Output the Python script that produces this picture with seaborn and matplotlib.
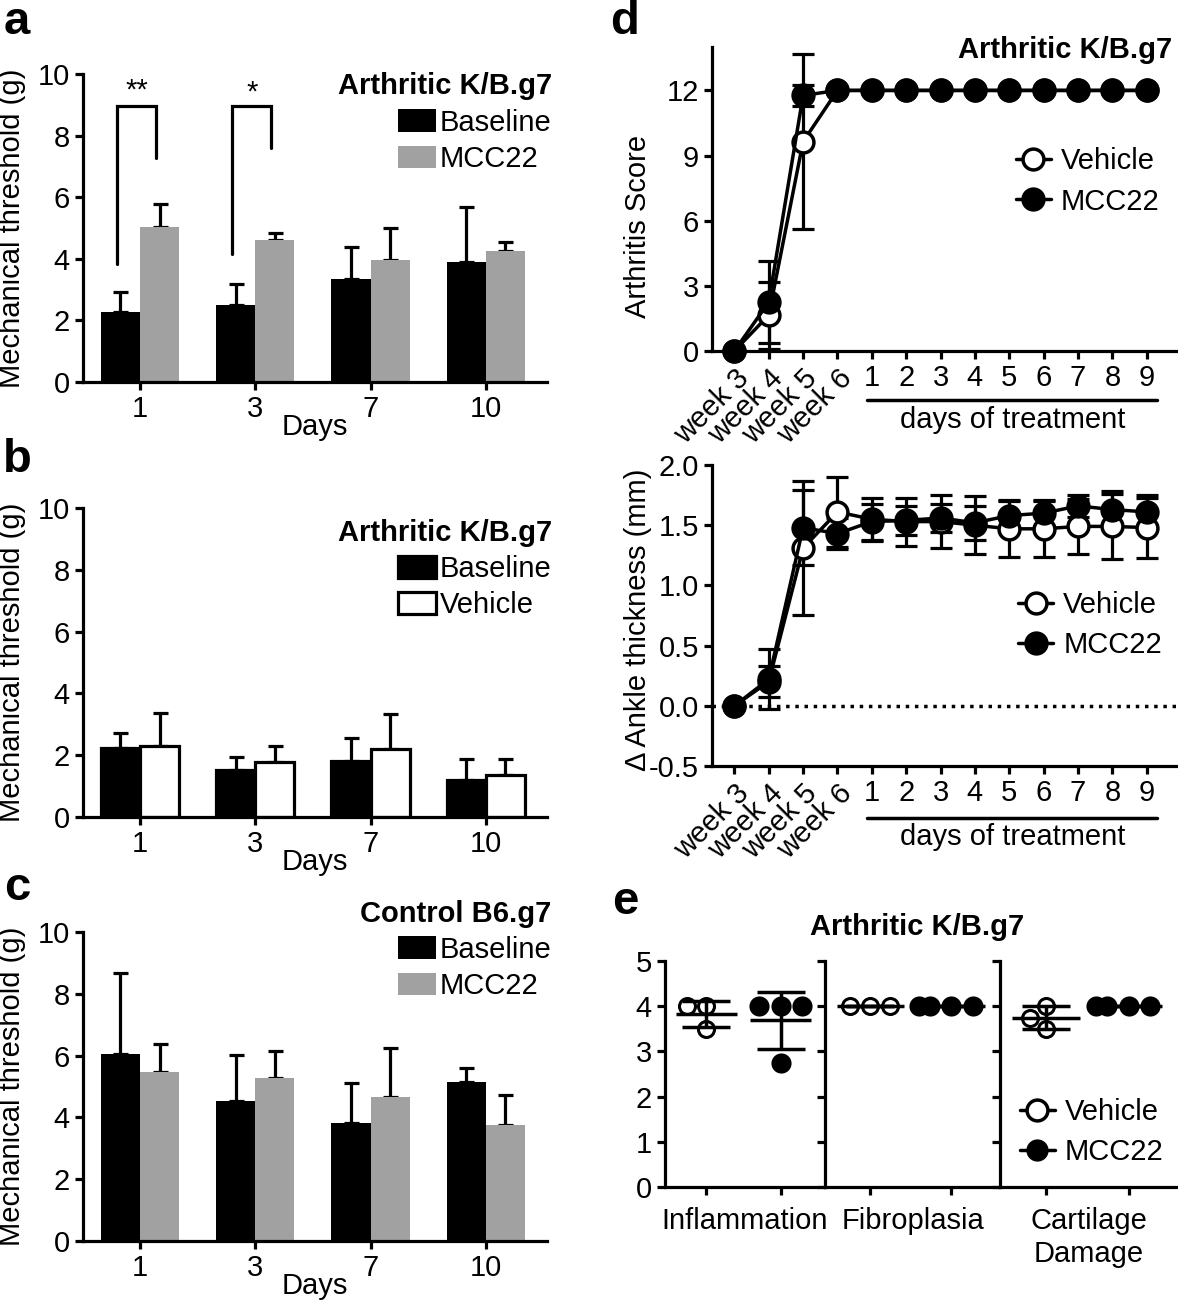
import numpy as np
import pandas as pd
import matplotlib
matplotlib.use("Agg")
import matplotlib.pyplot as plt
import matplotlib.transforms as mtrans
from matplotlib.lines import Line2D
import seaborn as sns

# ---------------- data ----------------
days = ["1", "3", "7", "10"]

a_baseline = [2.27, 2.49, 3.35, 3.91]
a_baseline_err = [0.65, 0.70, 1.03, 1.77]
a_mcc22 = [5.03, 4.62, 3.97, 4.24]
a_mcc22_err = [0.75, 0.21, 1.02, 0.30]

b_baseline = [2.23, 1.52, 1.80, 1.20]
b_baseline_err = [0.49, 0.42, 0.76, 0.68]
b_vehicle = [2.30, 1.78, 2.20, 1.36]
b_vehicle_err = [1.07, 0.52, 1.13, 0.52]

c_baseline = [6.05, 4.53, 3.82, 5.15]
c_baseline_err = [2.62, 1.49, 1.29, 0.45]
c_mcc22 = [5.47, 5.27, 4.66, 3.75]
c_mcc22_err = [0.91, 0.88, 1.59, 0.97]

# significance brackets in panel a
sig_day_index = [0, 1]
sig_left_from = [3.84, 4.16]
sig_right_from = [7.28, 7.60]
sig_top = [8.95, 8.95]
sig_text = ["**", "*"]
sig_text_y = [9.45, 9.40]

time_labels = ["week 3", "week 4", "week 5", "week 6",
               "1", "2", "3", "4", "5", "6", "7", "8", "9"]

score_vehicle = [0, 1.65, 9.64, 12, 12, 12, 12, 12, 12, 12, 12, 12, 12]
score_vehicle_err = [0, 1.55, 4.04, 0, 0, 0, 0, 0, 0, 0, 0, 0, 0]
score_mcc22 = [0, 2.25, 11.77, 12, 12, 12, 12, 12, 12, 12, 12, 12, 12]
score_mcc22_err = [0, 1.90, 0.50, 0, 0, 0, 0, 0, 0, 0, 0, 0, 0]

ankle_vehicle = [0, 0.20, 1.31, 1.61, 1.55, 1.53, 1.53, 1.50, 1.47, 1.47, 1.49, 1.49, 1.48]
ankle_vehicle_err = [0, 0.13, 0.56, 0.29, 0.18, 0.20, 0.22, 0.24, 0.23, 0.23, 0.23, 0.27, 0.25]
ankle_mcc22 = [0, 0.22, 1.48, 1.43, 1.53, 1.54, 1.56, 1.52, 1.58, 1.60, 1.66, 1.63, 1.61]
ankle_mcc22_err = [0, 0.25, 0.31, 0.13, 0.15, 0.12, 0.12, 0.14, 0.13, 0.11, 0.09, 0.15, 0.14]

histo_categories = ["Inflammation", "Fibroplasia", "Cartilage\nDamage"]
histo_vehicle = [[4, 4, 3.5], [4, 4, 4], [4.0, 3.75, 3.5]]
histo_mcc22 = [[4, 4, 4, 2.75], [4, 4, 4, 4], [4, 4, 4, 4]]

GRAY = "#a1a1a1"
FS = 21

# ---------------- style ----------------
sns.set_theme(style="ticks")
plt.rcParams.update({
    "font.family": ["Liberation Sans", "DejaVu Sans"],
    "font.size": FS, "axes.labelsize": FS, "xtick.labelsize": FS,
    "ytick.labelsize": FS, "legend.fontsize": FS,
    "axes.linewidth": 2.3, "xtick.major.width": 2.3, "ytick.major.width": 2.3,
    "xtick.major.size": 6, "ytick.major.size": 6,
    "xtick.major.pad": 3.5, "ytick.major.pad": 3.5,
    "xtick.color": "black", "ytick.color": "black", "axes.edgecolor": "black",
    "axes.labelcolor": "black", "text.color": "black",
})

W, H = 1178, 1301
fig = plt.figure(figsize=(W / 100, H / 100), dpi=100)


def add_ax(l, t, r, b):
    return fig.add_axes([l / W, 1 - b / H, (r - l) / W, (b - t) / H])


def style(ax):
    sns.despine(ax=ax)
    for s in ("left", "bottom"):
        ax.spines[s].set_linewidth(2.3)


def bar_panel(ax, base, base_err, other, other_err, other_name, other_color,
              title, legend_top, edge):
    df = pd.DataFrame({
        "Days": days * 2,
        "value": base + other,
        "group": ["Baseline"] * len(days) + [other_name] * len(days),
    })
    sns.barplot(data=df, x="Days", y="value", hue="group", order=days,
                hue_order=["Baseline", other_name],
                palette=["black", other_color], width=0.68, errorbar=None,
                edgecolor="black" if edge else "none",
                linewidth=2.3 if edge else 0, ax=ax, zorder=2)
    for cont, vals, errs in zip(ax.containers, [base, other], [base_err, other_err]):
        xs = [p.get_x() + p.get_width() / 2 for p in cont]
        ax.errorbar(xs, vals, yerr=[np.zeros(len(errs)), errs], fmt="none",
                    ecolor="black", elinewidth=2.3, capsize=5.4, capthick=2.3,
                    zorder=1)
    h, l = ax.get_legend_handles_labels()
    ax.legend(h, l, title=title,
              title_fontproperties={"weight": "bold", "size": FS},
              loc="upper right", bbox_to_anchor=(1.01, legend_top),
              frameon=False, borderpad=0, borderaxespad=0,
              handlelength=1.3, handleheight=0.8, handletextpad=0.15,
              labelspacing=0.28, alignment="right", fontsize=FS)
    ax.set_ylim(0, 10)
    ax.set_yticks(range(0, 11, 2))
    ax.set_xlim(-0.494, 3.53)
    ax.set_xlabel("Days")
    ax.xaxis.set_label_coords(0.5, -0.10)
    ax.set_ylabel("Mechanical threshold (g)")
    ax.yaxis.set_label_coords(-0.122, 0.5)
    style(ax)


# ---------------- panel a ----------------
ax_a = add_ax(83, 74, 547, 382)
bar_panel(ax_a, a_baseline, a_baseline_err, a_mcc22, a_mcc22_err, "MCC22", GRAY,
          "Arthritic K/B.g7", 1.005, False)
cont_b, cont_m = ax_a.containers[0], ax_a.containers[1]
for i, lf, rf, top, txt, ty in zip(sig_day_index, sig_left_from, sig_right_from,
                                   sig_top, sig_text, sig_text_y):
    xl = cont_b[i].get_x() + cont_b[i].get_width() / 2 - 0.03
    xr = cont_m[i].get_x() + cont_m[i].get_width() / 2 - 0.03
    ax_a.plot([xl, xl, xr, xr], [lf, top, top, rf], color="black", lw=2.3,
              solid_joinstyle="miter", zorder=3)
    ax_a.text((xl + xr) / 2, ty, txt, ha="center", va="center", fontsize=FS)

# ---------------- panel b ----------------
ax_b = add_ax(83, 508, 547, 817)
bar_panel(ax_b, b_baseline, b_baseline_err, b_vehicle, b_vehicle_err, "Vehicle", "white",
          "Arthritic K/B.g7", 0.965, True)

# ---------------- panel c ----------------
ax_c = add_ax(83, 932, 547, 1241)
bar_panel(ax_c, c_baseline, c_baseline_err, c_mcc22, c_mcc22_err, "MCC22", GRAY,
          "Control B6.g7", 1.105, False)

# ---------------- panel d ----------------
pos = np.arange(len(time_labels))


def time_panel(ax, veh, veh_err, mcc, mcc_err, line_y, text_y):
    sns.lineplot(x=pos, y=veh, marker="o", color="black", linewidth=2.5,
                 markersize=15, markerfacecolor="white", markeredgecolor="black",
                 markeredgewidth=2.5, clip_on=False, zorder=4, label="Vehicle", ax=ax)
    ax.errorbar(pos, veh, yerr=veh_err, fmt="none", ecolor="black",
                elinewidth=2.3, capsize=8, capthick=2.3, zorder=3, clip_on=False)
    sns.lineplot(x=pos, y=mcc, marker="o", color="black", linewidth=2.5,
                 markersize=15, markerfacecolor="black", markeredgecolor="black",
                 markeredgewidth=2.5, clip_on=False, zorder=5, label="MCC22", ax=ax)
    ax.errorbar(pos, mcc, yerr=mcc_err, fmt="none", ecolor="black",
                elinewidth=2.3, capsize=8, capthick=2.3, zorder=3, clip_on=False)
    ax.set_xlim(-0.65, 12.85)
    ax.set_xticks(pos)
    ax.set_xticklabels(time_labels)
    for lbl in ax.get_xticklabels()[:4]:
        lbl.set_rotation(45)
        lbl.set_ha("right")
        lbl.set_va("top")
        lbl.set_rotation_mode("anchor")
    tr = mtrans.blended_transform_factory(ax.transData, ax.transAxes)
    ax.plot([3.85, 12.3], [line_y, line_y], transform=tr, clip_on=False,
            color="black", lw=2.5)
    ax.text(8.1, text_y, "days of treatment", transform=tr, ha="center",
            va="center", fontsize=FS)
    style(ax)


ax_d1 = add_ax(712, 47, 1176, 351)
time_panel(ax_d1, score_vehicle, score_vehicle_err, score_mcc22, score_mcc22_err,
           -0.161, -0.226)
ax_d1.set_ylim(0, 14)
ax_d1.set_yticks([0, 3, 6, 9, 12])
ax_d1.set_ylabel("Arthritis Score")
ax_d1.yaxis.set_label_coords(-0.13, 0.41)
ax_d1.text(0.991, 0.99, "Arthritic K/B.g7", transform=ax_d1.transAxes,
           ha="right", va="center", fontsize=FS, fontweight="bold")
ax_d1.legend(loc="upper right", bbox_to_anchor=(0.965, 0.67), frameon=False,
             borderpad=0, borderaxespad=0, handlelength=1.2, handletextpad=0.35,
             labelspacing=0.42, fontsize=FS)

ax_d2 = add_ax(712, 465, 1176, 766)
ax_d2.axhline(0, color="black", lw=2.5, ls=":", zorder=1)
time_panel(ax_d2, ankle_vehicle, ankle_vehicle_err, ankle_mcc22, ankle_mcc22_err,
           -0.173, -0.235)
ax_d2.set_ylim(-0.5, 2.0)
ax_d2.set_yticks([-0.5, 0.0, 0.5, 1.0, 1.5, 2.0])
ax_d2.set_yticklabels(["-0.5", "0.0", "0.5", "1.0", "1.5", "2.0"])
ax_d2.set_ylabel("Δ Ankle thickness (mm)")
ax_d2.yaxis.set_label_coords(-0.13, 0.485)
ax_d2.legend(loc="upper right", bbox_to_anchor=(0.97, 0.58), frameon=False,
             borderpad=0, borderaxespad=0, handlelength=1.2, handletextpad=0.35,
             labelspacing=0.4, fontsize=FS)

# ---------------- panel e ----------------
e_bounds = [(665, 825), (825, 1000), (1000, 1178)]
e_axes = []
for k, ((l, r), cat, veh, mcc) in enumerate(zip(e_bounds, histo_categories,
                                                histo_vehicle, histo_mcc22)):
    ax = add_ax(l, 961, r, 1187)
    e_axes.append(ax)
    sns.swarmplot(x=["Vehicle"] * len(veh), y=veh, order=["Vehicle", "MCC22"],
                  color="white", edgecolor="black", linewidth=2.2, size=11.5,
                  ax=ax, zorder=3)
    sns.swarmplot(x=["MCC22"] * len(mcc), y=mcc, order=["Vehicle", "MCC22"],
                  color="black", edgecolor="black", linewidth=0, size=14.5,
                  ax=ax, zorder=3)
    for i, vals in enumerate([veh, mcc]):
        m = np.mean(vals)
        sd = np.std(vals, ddof=1)
        ax.hlines(m, i - 0.41, i + 0.41, color="black", lw=2.5, zorder=4)
        ax.errorbar([i], [m], yerr=[sd], fmt="none", ecolor="black",
                    elinewidth=2.5, capsize=17, capthick=2.5, zorder=4)
    ax.set_xlim(-0.56, 1.6)
    ax.set_ylim(0, 5)
    ax.set_yticks(range(6))
    ax.set_xticks([0, 1])
    ax.set_xticklabels(["", ""])
    ax.set_xlabel(cat)
    ax.xaxis.set_label_coords(0.5, -0.09)
    ax.set_ylabel("")
    if k > 0:
        ax.tick_params(axis="y", labelleft=False)
    style(ax)
    ax.patch.set_alpha(0)

leg_handles = [
    Line2D([], [], color="black", lw=2.5, marker="o", markersize=15,
           markerfacecolor="white", markeredgecolor="black", markeredgewidth=2.5),
    Line2D([], [], color="black", lw=2.5, marker="o", markersize=15,
           markerfacecolor="black", markeredgecolor="black"),
]
e_axes[2].legend(leg_handles, ["Vehicle", "MCC22"], loc="upper right",
                 bbox_to_anchor=(0.92, 0.395), frameon=False, borderpad=0,
                 borderaxespad=0, handlelength=1.2, handletextpad=0.35,
                 labelspacing=0.42, fontsize=FS)
fig.text(917 / W, 1 - 927 / H, "Arthritic K/B.g7", ha="center", va="center",
         fontsize=FS, fontweight="bold")

# ---------------- panel letters ----------------
for letter, (x, y) in zip("abcde", [(17, 22), (17, 460), (17, 888), (625, 22), (625, 902)]):
    fig.text(x / W, 1 - y / H, letter, ha="center", va="center",
             fontsize=34, fontweight="bold")

fig.savefig("out.png", dpi=100)
